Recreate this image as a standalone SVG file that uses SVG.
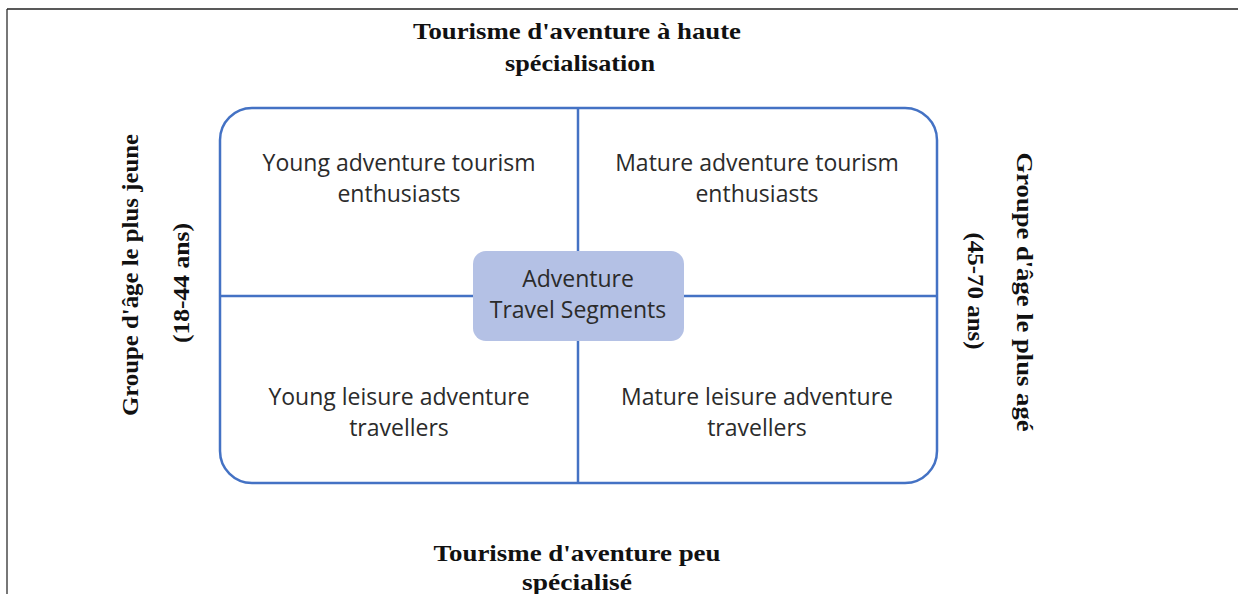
<svg xmlns="http://www.w3.org/2000/svg" width="1238" height="594" viewBox="0 0 1238 594">
  <style>
    .frame { stroke: #777; stroke-width: 2; fill: none; }
    .frame-top { stroke: #222; stroke-width: 1.5; fill: none; }
    .outline { fill: none; stroke: #4472C4; stroke-width: 2.5; }
    .divider { stroke: #4472C4; stroke-width: 2.5; fill: none; }
    .hub { fill: #B4C1E5; }
    .quad { font-family: "Open Sans", "Noto Sans", sans-serif; font-size: 23px; fill: #2b2b2b; text-anchor: middle; }
    .axis { font-family: "Liberation Serif", "DejaVu Serif", serif; font-size: 24px; font-weight: bold; fill: #111; text-anchor: middle; }
  </style>

  <rect width="1238" height="594" fill="#fff"/>
  <!-- page frame -->
  <line class="frame" x1="7" y1="9" x2="7" y2="594"/>
  <line class="frame-top" x1="7" y1="9" x2="1238" y2="9"/>

  <!-- quadrant grid -->
  <g id="connectors">
    <rect class="outline" x="220" y="108" width="717" height="375" rx="32"/>
    <line class="divider" x1="578" y1="108" x2="578" y2="251"/>
    <line class="divider" x1="578" y1="341" x2="578" y2="483"/>
    <line class="divider" x1="220" y1="296" x2="473" y2="296"/>
    <line class="divider" x1="684" y1="296" x2="937" y2="296"/>
  </g>

  <g id="hub">
    <rect class="hub" x="473" y="251" width="211" height="90" rx="13"/>
    <text class="quad" x="578" y="287">Adventure</text>
    <text class="quad" x="578" y="318">Travel Segments</text>
  </g>

  <g id="young-enthusiasts">
    <text class="quad" x="399" y="171">Young adventure tourism</text>
    <text class="quad" x="399" y="202">enthusiasts</text>
  </g>
  <g id="mature-enthusiasts">
    <text class="quad" x="757" y="171">Mature adventure tourism</text>
    <text class="quad" x="757" y="202">enthusiasts</text>
  </g>
  <g id="young-leisure">
    <text class="quad" x="399" y="405">Young leisure adventure</text>
    <text class="quad" x="399" y="436">travellers</text>
  </g>
  <g id="mature-leisure">
    <text class="quad" x="757" y="405">Mature leisure adventure</text>
    <text class="quad" x="757" y="436">travellers</text>
  </g>

  <g id="axis-top">
    <text class="axis" x="577" y="39" textLength="328" lengthAdjust="spacingAndGlyphs">Tourisme d'aventure à haute</text>
    <text class="axis" x="580" y="71" textLength="150" lengthAdjust="spacingAndGlyphs">spécialisation</text>
  </g>
  <g id="axis-bottom">
    <text class="axis" x="577" y="561" textLength="287" lengthAdjust="spacingAndGlyphs">Tourisme d'aventure peu</text>
    <text class="axis" x="577" y="590" textLength="110" lengthAdjust="spacingAndGlyphs">spécialisé</text>
  </g>
  <g id="axis-left">
    <text class="axis" transform="translate(138 275) rotate(-90)" textLength="282" lengthAdjust="spacingAndGlyphs">Groupe d'âge le plus jeune</text>
    <text class="axis" transform="translate(189 283) rotate(-90)" textLength="120" lengthAdjust="spacingAndGlyphs">(18-44 ans)</text>
  </g>
  <g id="axis-right">
    <text class="axis" transform="translate(1017 292) rotate(90)" textLength="279" lengthAdjust="spacingAndGlyphs">Groupe d'âge le plus agé</text>
    <text class="axis" transform="translate(968 291) rotate(90)" textLength="117" lengthAdjust="spacingAndGlyphs">(45-70 ans)</text>
  </g>
</svg>
